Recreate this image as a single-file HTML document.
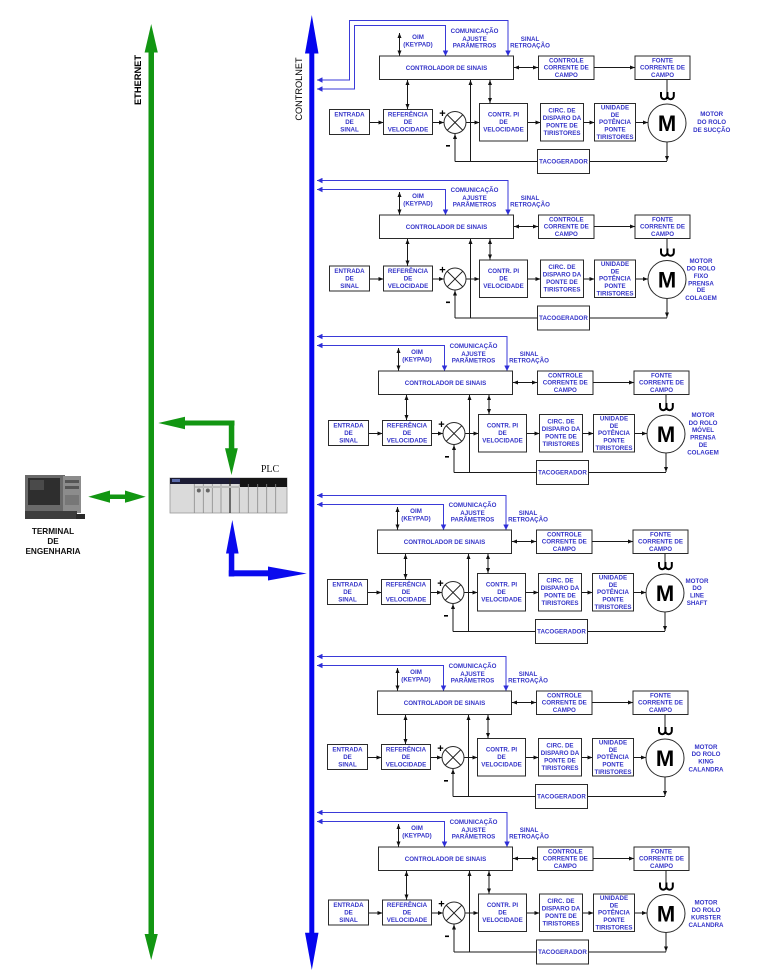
<!DOCTYPE html>
<html><head><meta charset="utf-8">
<style>
html,body{margin:0;padding:0;background:#fff;}
svg{display:block;}
.t{font-family:"Liberation Sans",Arial,sans-serif;font-weight:bold;font-size:6.2px;fill:#3434c8;text-anchor:middle;}
.b{fill:#fff;stroke:#2a2a2a;stroke-width:1;}
.l{fill:none;stroke:#1a1a1a;stroke-width:1;}
.c{fill:none;stroke:#3a3ad8;stroke-width:1;}
.M{font-family:"Liberation Sans",Arial,sans-serif;font-weight:bold;font-size:22px;fill:#000;text-anchor:middle;}
.pm{font-family:"Liberation Sans",Arial,sans-serif;font-weight:bold;font-size:11px;fill:#000;text-anchor:middle;}
</style></head>
<body>
<svg width="763" height="977" viewBox="0 0 763 977" xmlns="http://www.w3.org/2000/svg">
<defs>
<marker id="a" viewBox="0 0 10 10" refX="10" refY="5" markerWidth="5" markerHeight="5" markerUnits="userSpaceOnUse" orient="auto-start-reverse"><path d="M0,1L10,5L0,9z" fill="#111"/></marker>
<marker id="bm" viewBox="0 0 10 10" refX="10" refY="5" markerWidth="5.5" markerHeight="5.5" markerUnits="userSpaceOnUse" orient="auto-start-reverse"><path d="M0,0L10,5L0,10z" fill="#2f2fd8"/></marker>
</defs>

<!-- ETHERNET bus -->
<rect x="148.5" y="51" width="5.5" height="884" fill="#129612"/>
<path d="M151.2,24L157.8,52.5H144.6z" fill="#129612"/>
<path d="M144.6,934H157.8L151.2,960z" fill="#129612"/>
<text transform="translate(141,80) rotate(-90)" text-anchor="middle" font-family="Liberation Sans, Arial, sans-serif" font-weight="bold" font-size="9.3" fill="#000">ETHERNET</text>

<!-- CONTROLNET bus -->
<rect x="309.3" y="52" width="5" height="882" fill="#0505ee"/>
<path d="M311.8,15L318.5,53.5H305z" fill="#0505ee"/>
<path d="M305,932.7H318.5L311.8,970z" fill="#0505ee"/>
<text transform="translate(302,89) rotate(-90)" text-anchor="middle" font-family="Liberation Sans, Arial, sans-serif" font-size="9.2" fill="#000">CONTROLNET</text>

<!-- green arrow bus -> PLC -->
<rect x="184" y="420.5" width="50.5" height="5" fill="#129612"/>
<path d="M158.3,423L185,416.8L185,429.2z" fill="#129612"/>
<rect x="228.8" y="420.5" width="5.5" height="29" fill="#129612"/>
<path d="M225,448.3H237.8L231.5,475z" fill="#129612"/>

<!-- green double arrow terminal -->
<rect x="108" y="494.5" width="19" height="4.5" fill="#129612"/>
<path d="M88.3,496.7L110,490.5L110,502.8z" fill="#129612"/>
<path d="M145.7,496.7L125,490.5L125,502.8z" fill="#129612"/>

<!-- blue arrow PLC -> controlnet -->
<path d="M232.3,520L238.6,553.5H226z" fill="#0a0aee"/>
<rect x="228.8" y="553" width="5.5" height="23.5" fill="#0a0aee"/>
<rect x="228.8" y="570.3" width="40" height="6" fill="#0a0aee"/>
<path d="M268,566.5L306.7,573.5L268,580.5z" fill="#0a0aee"/>

<!-- computer -->
<rect x="25" y="475" width="40" height="36" fill="#6a6a6a"/>
<rect x="28" y="478" width="32" height="27" fill="#2e2e2e"/>
<rect x="30" y="480" width="14" height="10" fill="#4a4a4a"/>
<rect x="63" y="476" width="18" height="37" fill="#8c8c8c"/>
<rect x="65" y="480" width="14" height="3" fill="#555"/>
<rect x="65" y="486" width="14" height="3" fill="#555"/>
<rect x="65" y="495" width="14" height="10" fill="#777"/>
<rect x="25" y="511" width="52" height="8" fill="#3d3d3d"/>
<rect x="76" y="514" width="9" height="5" fill="#2a2a2a"/>
<text x="53" y="534" text-anchor="middle" font-family="Liberation Sans, Arial, sans-serif" font-weight="bold" font-size="8.2" fill="#111">TERMINAL</text>
<text x="53" y="544" text-anchor="middle" font-family="Liberation Sans, Arial, sans-serif" font-weight="bold" font-size="8.2" fill="#111">DE</text>
<text x="53" y="554" text-anchor="middle" font-family="Liberation Sans, Arial, sans-serif" font-weight="bold" font-size="8.2" fill="#111">ENGENHARIA</text>

<!-- PLC -->
<text x="270" y="472" text-anchor="middle" font-family="Liberation Serif, serif" font-size="10" fill="#111">PLC</text>
<rect x="170" y="478" width="117" height="35" fill="#dadada" stroke="#9a9a9a" stroke-width="0.8"/>
<rect x="170" y="478" width="117" height="6" fill="#1c1c34"/>
<rect x="240" y="478" width="47" height="9" fill="#151515"/>
<rect x="172" y="479" width="8" height="3" fill="#5a6aaa"/>
<g stroke="#8a8a8a" stroke-width="0.8">
<path d="M194.3,484V513M203.3,484V513M212.3,484V513M221,484V513M239.3,484V513M248.3,484V513M257.7,484V513M266.7,484V513M275.7,484V513"/>
</g>
<path d="M230,478V513" stroke="#222" stroke-width="1.2"/>
<circle cx="198.8" cy="490.5" r="2" fill="#666"/>
<circle cx="207.8" cy="490.5" r="2" fill="#666"/>
<rect x="194.5" y="486" width="45" height="2" fill="#bbb"/>

<!-- ================= SECTION 1 ================= -->
<path class="c" d="M317,80H349.5V20.5H508V56" marker-start="url(#bm)" marker-end="url(#bm)"/>
<path class="c" d="M317,89H354.5V25.5H445.5V56" marker-start="url(#bm)" marker-end="url(#bm)"/>
<g>
<rect class="b" x="379.5" y="56" width="134" height="23.5"/>
<rect class="b" x="538.5" y="56" width="55.5" height="23.5"/>
<rect class="b" x="635" y="56" width="55" height="23.5"/>
<path class="l" d="M514,67.5H538" marker-start="url(#a)" marker-end="url(#a)"/>
<path class="l" d="M594,67.5H635" marker-end="url(#a)"/>
<path class="l" d="M399.5,33V55.5" marker-start="url(#a)" marker-end="url(#a)"/>
<text class="t" x="446.5" y="69.9">CONTROLADOR DE SINAIS</text>
<text class="t" x="566.3" y="62.5">CONTROLE</text><text class="t" x="566.3" y="69.7">CORRENTE DE</text><text class="t" x="566.3" y="76.9">CAMPO</text>
<text class="t" x="662.5" y="62.5">FONTE</text><text class="t" x="662.5" y="69.7">CORRENTE DE</text><text class="t" x="662.5" y="76.9">CAMPO</text>
<text class="t" x="418" y="39.2">OIM</text><text class="t" x="418" y="46.5">(KEYPAD)</text>
<text class="t" x="474.5" y="33.2">COMUNICAÇÃO</text><text class="t" x="474.5" y="40.8">AJUSTE</text><text class="t" x="474.5" y="47.5">PARÂMETROS</text>
<text class="t" x="530" y="40.8">SINAL</text><text class="t" x="530" y="47.5">RETROAÇÃO</text>
</g>
<g>
<path class="l" d="M455,161.5H667"/>
<path class="l" d="M455,161.5V134" marker-end="url(#a)"/>
<path class="l" d="M667,142V161" marker-end="url(#a)"/>
<path class="l" d="M369.5,122.5H383.5" marker-end="url(#a)"/>
<path class="l" d="M432.5,122.5H444" marker-end="url(#a)"/>
<path class="l" d="M466,122.5H479.5" marker-end="url(#a)"/>
<path class="l" d="M527.5,122.5H540.5" marker-end="url(#a)"/>
<path class="l" d="M583.5,122.5H594.5" marker-end="url(#a)"/>
<path class="l" d="M635.5,122.5H648" marker-end="url(#a)"/>
<rect class="b" x="329.5" y="109.5" width="40" height="25"/>
<rect class="b" x="383.5" y="109.5" width="49" height="25"/>
<rect class="b" x="479.5" y="103.5" width="48" height="37.5"/>
<rect class="b" x="540.5" y="103.5" width="43" height="37.5"/>
<rect class="b" x="594.5" y="103.5" width="41" height="37.5"/>
<rect class="b" x="537.5" y="149.5" width="52" height="24"/>
<circle class="b" cx="455" cy="122.5" r="11"/>
<path class="l" d="M447.2,114.7L462.8,130.3M462.8,114.7L447.2,130.3"/>
<circle class="b" cx="667" cy="123" r="19" stroke-width="1.3"/>
<text class="M" x="667" y="131">M</text>
<path d="M661,92v4a3.2,3.2 0 0 0 6.4,0v-4M667.4,96a3.2,3.2 0 0 0 6.4,0v-4" fill="none" stroke="#000" stroke-width="2"/>
<text class="pm" x="442.5" y="117">+</text>
<rect x="446" y="145" width="4" height="1.6" fill="#000"/>
<text class="t" x="349.5" y="116.5">ENTRADA</text><text class="t" x="349.5" y="124">DE</text><text class="t" x="349.5" y="131.5">SINAL</text>
<text class="t" x="408" y="116.5">REFERÊNCIA</text><text class="t" x="408" y="124">DE</text><text class="t" x="408" y="131.5">VELOCIDADE</text>
<text class="t" x="503.5" y="116.5">CONTR. PI</text><text class="t" x="503.5" y="124">DE</text><text class="t" x="503.5" y="131.5">VELOCIDADE</text>
<text class="t" x="562" y="112.4">CIRC. DE</text><text class="t" x="562" y="120">DISPARO DA</text><text class="t" x="562" y="127.6">PONTE DE</text><text class="t" x="562" y="135.2">TIRISTORES</text>
<text class="t" x="615" y="109.6">UNIDADE</text><text class="t" x="615" y="116.9">DE</text><text class="t" x="615" y="124.2">POTÊNCIA</text><text class="t" x="615" y="131.5">PONTE</text><text class="t" x="615" y="138.8">TIRISTORES</text>
<text class="t" x="563.5" y="163.7">TACOGERADOR</text>
</g>
<g>
<path class="l" d="M470.5,161.5V80" marker-end="url(#a)"/>
<path class="l" d="M490,80V103" marker-start="url(#a)" marker-end="url(#a)"/>
<path class="l" d="M407.5,80V109" marker-start="url(#a)" marker-end="url(#a)"/>
<path class="l" d="M667,79.5V92" stroke-width="1.3"/>
</g>
<text class="t" x="711.7" y="116.2">MOTOR</text><text class="t" x="711.7" y="124.2">DO ROLO</text><text class="t" x="711.7" y="132.2">DE SUCÇÃO</text>

<!-- ================= SECTION 2 ================= -->
<g transform="translate(0,159)">
<path class="c" d="M317,21.5H508V56" marker-start="url(#bm)" marker-end="url(#bm)"/>
<path class="c" d="M317,30.5H445.5V56" marker-start="url(#bm)" marker-end="url(#bm)"/>
<rect class="b" x="379.5" y="56" width="134" height="23.5"/>
<rect class="b" x="538.5" y="56" width="55.5" height="23.5"/>
<rect class="b" x="635" y="56" width="55" height="23.5"/>
<path class="l" d="M514,67.5H538" marker-start="url(#a)" marker-end="url(#a)"/>
<path class="l" d="M594,67.5H635" marker-end="url(#a)"/>
<path class="l" d="M399.5,33V55.5" marker-start="url(#a)" marker-end="url(#a)"/>
<text class="t" x="446.5" y="69.9">CONTROLADOR DE SINAIS</text>
<text class="t" x="566.3" y="62.5">CONTROLE</text><text class="t" x="566.3" y="69.7">CORRENTE DE</text><text class="t" x="566.3" y="76.9">CAMPO</text>
<text class="t" x="662.5" y="62.5">FONTE</text><text class="t" x="662.5" y="69.7">CORRENTE DE</text><text class="t" x="662.5" y="76.9">CAMPO</text>
<text class="t" x="418" y="39.2">OIM</text><text class="t" x="418" y="46.5">(KEYPAD)</text>
<text class="t" x="474.5" y="33.2">COMUNICAÇÃO</text><text class="t" x="474.5" y="40.8">AJUSTE</text><text class="t" x="474.5" y="47.5">PARÂMETROS</text>
<text class="t" x="530" y="40.8">SINAL</text><text class="t" x="530" y="47.5">RETROAÇÃO</text>
</g>
<g transform="translate(0,156.5)">
<path class="l" d="M455,161.5H667"/>
<path class="l" d="M455,161.5V134" marker-end="url(#a)"/>
<path class="l" d="M667,142V161" marker-end="url(#a)"/>
<path class="l" d="M369.5,122.5H383.5" marker-end="url(#a)"/>
<path class="l" d="M432.5,122.5H444" marker-end="url(#a)"/>
<path class="l" d="M466,122.5H479.5" marker-end="url(#a)"/>
<path class="l" d="M527.5,122.5H540.5" marker-end="url(#a)"/>
<path class="l" d="M583.5,122.5H594.5" marker-end="url(#a)"/>
<path class="l" d="M635.5,122.5H648" marker-end="url(#a)"/>
<rect class="b" x="329.5" y="109.5" width="40" height="25"/>
<rect class="b" x="383.5" y="109.5" width="49" height="25"/>
<rect class="b" x="479.5" y="103.5" width="48" height="37.5"/>
<rect class="b" x="540.5" y="103.5" width="43" height="37.5"/>
<rect class="b" x="594.5" y="103.5" width="41" height="37.5"/>
<rect class="b" x="537.5" y="149.5" width="52" height="24"/>
<circle class="b" cx="455" cy="122.5" r="11"/>
<path class="l" d="M447.2,114.7L462.8,130.3M462.8,114.7L447.2,130.3"/>
<circle class="b" cx="667" cy="123" r="19" stroke-width="1.3"/>
<text class="M" x="667" y="131">M</text>
<path d="M661,92v4a3.2,3.2 0 0 0 6.4,0v-4M667.4,96a3.2,3.2 0 0 0 6.4,0v-4" fill="none" stroke="#000" stroke-width="2"/>
<text class="pm" x="442.5" y="117">+</text>
<rect x="446" y="145" width="4" height="1.6" fill="#000"/>
<text class="t" x="349.5" y="116.5">ENTRADA</text><text class="t" x="349.5" y="124">DE</text><text class="t" x="349.5" y="131.5">SINAL</text>
<text class="t" x="408" y="116.5">REFERÊNCIA</text><text class="t" x="408" y="124">DE</text><text class="t" x="408" y="131.5">VELOCIDADE</text>
<text class="t" x="503.5" y="116.5">CONTR. PI</text><text class="t" x="503.5" y="124">DE</text><text class="t" x="503.5" y="131.5">VELOCIDADE</text>
<text class="t" x="562" y="112.4">CIRC. DE</text><text class="t" x="562" y="120">DISPARO DA</text><text class="t" x="562" y="127.6">PONTE DE</text><text class="t" x="562" y="135.2">TIRISTORES</text>
<text class="t" x="615" y="109.6">UNIDADE</text><text class="t" x="615" y="116.9">DE</text><text class="t" x="615" y="124.2">POTÊNCIA</text><text class="t" x="615" y="131.5">PONTE</text><text class="t" x="615" y="138.8">TIRISTORES</text>
<text class="t" x="563.5" y="163.7">TACOGERADOR</text>
</g>
<g>
<path class="l" d="M470.5,318V239" marker-end="url(#a)"/>
<path class="l" d="M490,239V259.5" marker-start="url(#a)" marker-end="url(#a)"/>
<path class="l" d="M407.5,239V265.5" marker-start="url(#a)" marker-end="url(#a)"/>
<path class="l" d="M667,238.5V248.5" stroke-width="1.3"/>
</g>
<text class="t" x="701" y="262.9">MOTOR</text><text class="t" x="701" y="270.5">DO ROLO</text><text class="t" x="701" y="277.9">FIXO</text><text class="t" x="701" y="285.5">PRENSA</text><text class="t" x="701" y="292.2">DE</text><text class="t" x="701" y="299.9">COLAGEM</text>

<!-- ================= SECTION 3 ================= -->
<g transform="translate(-1,315)">
<path class="c" d="M318,21.5H508V56" marker-start="url(#bm)" marker-end="url(#bm)"/>
<path class="c" d="M318,30.5H445.5V56" marker-start="url(#bm)" marker-end="url(#bm)"/>
<rect class="b" x="379.5" y="56" width="134" height="23.5"/>
<rect class="b" x="538.5" y="56" width="55.5" height="23.5"/>
<rect class="b" x="635" y="56" width="55" height="23.5"/>
<path class="l" d="M514,67.5H538" marker-start="url(#a)" marker-end="url(#a)"/>
<path class="l" d="M594,67.5H635" marker-end="url(#a)"/>
<path class="l" d="M399.5,33V55.5" marker-start="url(#a)" marker-end="url(#a)"/>
<text class="t" x="446.5" y="69.9">CONTROLADOR DE SINAIS</text>
<text class="t" x="566.3" y="62.5">CONTROLE</text><text class="t" x="566.3" y="69.7">CORRENTE DE</text><text class="t" x="566.3" y="76.9">CAMPO</text>
<text class="t" x="662.5" y="62.5">FONTE</text><text class="t" x="662.5" y="69.7">CORRENTE DE</text><text class="t" x="662.5" y="76.9">CAMPO</text>
<text class="t" x="418" y="39.2">OIM</text><text class="t" x="418" y="46.5">(KEYPAD)</text>
<text class="t" x="474.5" y="33.2">COMUNICAÇÃO</text><text class="t" x="474.5" y="40.8">AJUSTE</text><text class="t" x="474.5" y="47.5">PARÂMETROS</text>
<text class="t" x="530" y="40.8">SINAL</text><text class="t" x="530" y="47.5">RETROAÇÃO</text>
</g>
<g transform="translate(-1,311)">
<path class="l" d="M455,161.5H667"/>
<path class="l" d="M455,161.5V134" marker-end="url(#a)"/>
<path class="l" d="M667,142V161" marker-end="url(#a)"/>
<path class="l" d="M369.5,122.5H383.5" marker-end="url(#a)"/>
<path class="l" d="M432.5,122.5H444" marker-end="url(#a)"/>
<path class="l" d="M466,122.5H479.5" marker-end="url(#a)"/>
<path class="l" d="M527.5,122.5H540.5" marker-end="url(#a)"/>
<path class="l" d="M583.5,122.5H594.5" marker-end="url(#a)"/>
<path class="l" d="M635.5,122.5H648" marker-end="url(#a)"/>
<rect class="b" x="329.5" y="109.5" width="40" height="25"/>
<rect class="b" x="383.5" y="109.5" width="49" height="25"/>
<rect class="b" x="479.5" y="103.5" width="48" height="37.5"/>
<rect class="b" x="540.5" y="103.5" width="43" height="37.5"/>
<rect class="b" x="594.5" y="103.5" width="41" height="37.5"/>
<rect class="b" x="537.5" y="149.5" width="52" height="24"/>
<circle class="b" cx="455" cy="122.5" r="11"/>
<path class="l" d="M447.2,114.7L462.8,130.3M462.8,114.7L447.2,130.3"/>
<circle class="b" cx="667" cy="123" r="19" stroke-width="1.3"/>
<text class="M" x="667" y="131">M</text>
<path d="M661,92v4a3.2,3.2 0 0 0 6.4,0v-4M667.4,96a3.2,3.2 0 0 0 6.4,0v-4" fill="none" stroke="#000" stroke-width="2"/>
<text class="pm" x="442.5" y="117">+</text>
<rect x="446" y="145" width="4" height="1.6" fill="#000"/>
<text class="t" x="349.5" y="116.5">ENTRADA</text><text class="t" x="349.5" y="124">DE</text><text class="t" x="349.5" y="131.5">SINAL</text>
<text class="t" x="408" y="116.5">REFERÊNCIA</text><text class="t" x="408" y="124">DE</text><text class="t" x="408" y="131.5">VELOCIDADE</text>
<text class="t" x="503.5" y="116.5">CONTR. PI</text><text class="t" x="503.5" y="124">DE</text><text class="t" x="503.5" y="131.5">VELOCIDADE</text>
<text class="t" x="562" y="112.4">CIRC. DE</text><text class="t" x="562" y="120">DISPARO DA</text><text class="t" x="562" y="127.6">PONTE DE</text><text class="t" x="562" y="135.2">TIRISTORES</text>
<text class="t" x="615" y="109.6">UNIDADE</text><text class="t" x="615" y="116.9">DE</text><text class="t" x="615" y="124.2">POTÊNCIA</text><text class="t" x="615" y="131.5">PONTE</text><text class="t" x="615" y="138.8">TIRISTORES</text>
<text class="t" x="563.5" y="163.7">TACOGERADOR</text>
</g>
<g transform="translate(-1,0)">
<path class="l" d="M470.5,472.5V395" marker-end="url(#a)"/>
<path class="l" d="M490,395V414" marker-start="url(#a)" marker-end="url(#a)"/>
<path class="l" d="M407.5,395V420" marker-start="url(#a)" marker-end="url(#a)"/>
<path class="l" d="M667,394.5V403" stroke-width="1.3"/>
</g>
<text class="t" x="703" y="417.2">MOTOR</text><text class="t" x="703" y="424.9">DO ROLO</text><text class="t" x="703" y="432.2">MÓVEL</text><text class="t" x="703" y="439.5">PRENSA</text><text class="t" x="703" y="447.2">DE</text><text class="t" x="703" y="454.5">COLAGEM</text>

<!-- ================= SECTION 4 ================= -->
<g transform="translate(-2,474)">
<path class="c" d="M319,21.5H508V56" marker-start="url(#bm)" marker-end="url(#bm)"/>
<path class="c" d="M319,30.5H445.5V56" marker-start="url(#bm)" marker-end="url(#bm)"/>
<rect class="b" x="379.5" y="56" width="134" height="23.5"/>
<rect class="b" x="538.5" y="56" width="55.5" height="23.5"/>
<rect class="b" x="635" y="56" width="55" height="23.5"/>
<path class="l" d="M514,67.5H538" marker-start="url(#a)" marker-end="url(#a)"/>
<path class="l" d="M594,67.5H635" marker-end="url(#a)"/>
<path class="l" d="M399.5,33V55.5" marker-start="url(#a)" marker-end="url(#a)"/>
<text class="t" x="446.5" y="69.9">CONTROLADOR DE SINAIS</text>
<text class="t" x="566.3" y="62.5">CONTROLE</text><text class="t" x="566.3" y="69.7">CORRENTE DE</text><text class="t" x="566.3" y="76.9">CAMPO</text>
<text class="t" x="662.5" y="62.5">FONTE</text><text class="t" x="662.5" y="69.7">CORRENTE DE</text><text class="t" x="662.5" y="76.9">CAMPO</text>
<text class="t" x="418" y="39.2">OIM</text><text class="t" x="418" y="46.5">(KEYPAD)</text>
<text class="t" x="474.5" y="33.2">COMUNICAÇÃO</text><text class="t" x="474.5" y="40.8">AJUSTE</text><text class="t" x="474.5" y="47.5">PARÂMETROS</text>
<text class="t" x="530" y="40.8">SINAL</text><text class="t" x="530" y="47.5">RETROAÇÃO</text>
</g>
<g transform="translate(-2,470)">
<path class="l" d="M455,161.5H667"/>
<path class="l" d="M455,161.5V134" marker-end="url(#a)"/>
<path class="l" d="M667,142V161" marker-end="url(#a)"/>
<path class="l" d="M369.5,122.5H383.5" marker-end="url(#a)"/>
<path class="l" d="M432.5,122.5H444" marker-end="url(#a)"/>
<path class="l" d="M466,122.5H479.5" marker-end="url(#a)"/>
<path class="l" d="M527.5,122.5H540.5" marker-end="url(#a)"/>
<path class="l" d="M583.5,122.5H594.5" marker-end="url(#a)"/>
<path class="l" d="M635.5,122.5H648" marker-end="url(#a)"/>
<rect class="b" x="329.5" y="109.5" width="40" height="25"/>
<rect class="b" x="383.5" y="109.5" width="49" height="25"/>
<rect class="b" x="479.5" y="103.5" width="48" height="37.5"/>
<rect class="b" x="540.5" y="103.5" width="43" height="37.5"/>
<rect class="b" x="594.5" y="103.5" width="41" height="37.5"/>
<rect class="b" x="537.5" y="149.5" width="52" height="24"/>
<circle class="b" cx="455" cy="122.5" r="11"/>
<path class="l" d="M447.2,114.7L462.8,130.3M462.8,114.7L447.2,130.3"/>
<circle class="b" cx="667" cy="123" r="19" stroke-width="1.3"/>
<text class="M" x="667" y="131">M</text>
<path d="M661,92v4a3.2,3.2 0 0 0 6.4,0v-4M667.4,96a3.2,3.2 0 0 0 6.4,0v-4" fill="none" stroke="#000" stroke-width="2"/>
<text class="pm" x="442.5" y="117">+</text>
<rect x="446" y="145" width="4" height="1.6" fill="#000"/>
<text class="t" x="349.5" y="116.5">ENTRADA</text><text class="t" x="349.5" y="124">DE</text><text class="t" x="349.5" y="131.5">SINAL</text>
<text class="t" x="408" y="116.5">REFERÊNCIA</text><text class="t" x="408" y="124">DE</text><text class="t" x="408" y="131.5">VELOCIDADE</text>
<text class="t" x="503.5" y="116.5">CONTR. PI</text><text class="t" x="503.5" y="124">DE</text><text class="t" x="503.5" y="131.5">VELOCIDADE</text>
<text class="t" x="562" y="112.4">CIRC. DE</text><text class="t" x="562" y="120">DISPARO DA</text><text class="t" x="562" y="127.6">PONTE DE</text><text class="t" x="562" y="135.2">TIRISTORES</text>
<text class="t" x="615" y="109.6">UNIDADE</text><text class="t" x="615" y="116.9">DE</text><text class="t" x="615" y="124.2">POTÊNCIA</text><text class="t" x="615" y="131.5">PONTE</text><text class="t" x="615" y="138.8">TIRISTORES</text>
<text class="t" x="563.5" y="163.7">TACOGERADOR</text>
</g>
<g transform="translate(-2,0)">
<path class="l" d="M470.5,631.5V554" marker-end="url(#a)"/>
<path class="l" d="M490,554V573" marker-start="url(#a)" marker-end="url(#a)"/>
<path class="l" d="M407.5,554V579" marker-start="url(#a)" marker-end="url(#a)"/>
<path class="l" d="M667,553.5V562" stroke-width="1.3"/>
</g>
<text class="t" x="697" y="582.9">MOTOR</text><text class="t" x="697" y="590.2">DO</text><text class="t" x="697" y="597.5">LINE</text><text class="t" x="697" y="605.2">SHAFT</text>

<!-- ================= SECTION 5 ================= -->
<g transform="translate(-2,635)">
<path class="c" d="M319,21.5H508V56" marker-start="url(#bm)" marker-end="url(#bm)"/>
<path class="c" d="M319,30.5H445.5V56" marker-start="url(#bm)" marker-end="url(#bm)"/>
<rect class="b" x="379.5" y="56" width="134" height="23.5"/>
<rect class="b" x="538.5" y="56" width="55.5" height="23.5"/>
<rect class="b" x="635" y="56" width="55" height="23.5"/>
<path class="l" d="M514,67.5H538" marker-start="url(#a)" marker-end="url(#a)"/>
<path class="l" d="M594,67.5H635" marker-end="url(#a)"/>
<path class="l" d="M399.5,33V55.5" marker-start="url(#a)" marker-end="url(#a)"/>
<text class="t" x="446.5" y="69.9">CONTROLADOR DE SINAIS</text>
<text class="t" x="566.3" y="62.5">CONTROLE</text><text class="t" x="566.3" y="69.7">CORRENTE DE</text><text class="t" x="566.3" y="76.9">CAMPO</text>
<text class="t" x="662.5" y="62.5">FONTE</text><text class="t" x="662.5" y="69.7">CORRENTE DE</text><text class="t" x="662.5" y="76.9">CAMPO</text>
<text class="t" x="418" y="39.2">OIM</text><text class="t" x="418" y="46.5">(KEYPAD)</text>
<text class="t" x="474.5" y="33.2">COMUNICAÇÃO</text><text class="t" x="474.5" y="40.8">AJUSTE</text><text class="t" x="474.5" y="47.5">PARÂMETROS</text>
<text class="t" x="530" y="40.8">SINAL</text><text class="t" x="530" y="47.5">RETROAÇÃO</text>
</g>
<g transform="translate(-2,635)">
<path class="l" d="M455,161.5H667"/>
<path class="l" d="M455,161.5V134" marker-end="url(#a)"/>
<path class="l" d="M667,142V161" marker-end="url(#a)"/>
<path class="l" d="M369.5,122.5H383.5" marker-end="url(#a)"/>
<path class="l" d="M432.5,122.5H444" marker-end="url(#a)"/>
<path class="l" d="M466,122.5H479.5" marker-end="url(#a)"/>
<path class="l" d="M527.5,122.5H540.5" marker-end="url(#a)"/>
<path class="l" d="M583.5,122.5H594.5" marker-end="url(#a)"/>
<path class="l" d="M635.5,122.5H648" marker-end="url(#a)"/>
<rect class="b" x="329.5" y="109.5" width="40" height="25"/>
<rect class="b" x="383.5" y="109.5" width="49" height="25"/>
<rect class="b" x="479.5" y="103.5" width="48" height="37.5"/>
<rect class="b" x="540.5" y="103.5" width="43" height="37.5"/>
<rect class="b" x="594.5" y="103.5" width="41" height="37.5"/>
<rect class="b" x="537.5" y="149.5" width="52" height="24"/>
<circle class="b" cx="455" cy="122.5" r="11"/>
<path class="l" d="M447.2,114.7L462.8,130.3M462.8,114.7L447.2,130.3"/>
<circle class="b" cx="667" cy="123" r="19" stroke-width="1.3"/>
<text class="M" x="667" y="131">M</text>
<path d="M661,92v4a3.2,3.2 0 0 0 6.4,0v-4M667.4,96a3.2,3.2 0 0 0 6.4,0v-4" fill="none" stroke="#000" stroke-width="2"/>
<text class="pm" x="442.5" y="117">+</text>
<rect x="446" y="145" width="4" height="1.6" fill="#000"/>
<text class="t" x="349.5" y="116.5">ENTRADA</text><text class="t" x="349.5" y="124">DE</text><text class="t" x="349.5" y="131.5">SINAL</text>
<text class="t" x="408" y="116.5">REFERÊNCIA</text><text class="t" x="408" y="124">DE</text><text class="t" x="408" y="131.5">VELOCIDADE</text>
<text class="t" x="503.5" y="116.5">CONTR. PI</text><text class="t" x="503.5" y="124">DE</text><text class="t" x="503.5" y="131.5">VELOCIDADE</text>
<text class="t" x="562" y="112.4">CIRC. DE</text><text class="t" x="562" y="120">DISPARO DA</text><text class="t" x="562" y="127.6">PONTE DE</text><text class="t" x="562" y="135.2">TIRISTORES</text>
<text class="t" x="615" y="109.6">UNIDADE</text><text class="t" x="615" y="116.9">DE</text><text class="t" x="615" y="124.2">POTÊNCIA</text><text class="t" x="615" y="131.5">PONTE</text><text class="t" x="615" y="138.8">TIRISTORES</text>
<text class="t" x="563.5" y="163.7">TACOGERADOR</text>
</g>
<g transform="translate(-2,0)">
<path class="l" d="M470.5,796.5V715" marker-end="url(#a)"/>
<path class="l" d="M490,715V738" marker-start="url(#a)" marker-end="url(#a)"/>
<path class="l" d="M407.5,715V744" marker-start="url(#a)" marker-end="url(#a)"/>
<path class="l" d="M667,714.5V727" stroke-width="1.3"/>
</g>
<text class="t" x="706" y="748.9">MOTOR</text><text class="t" x="706" y="756.2">DO ROLO</text><text class="t" x="706" y="763.5">KING</text><text class="t" x="706" y="771.5">CALANDRA</text>

<!-- ================= SECTION 6 ================= -->
<g transform="translate(-1,791)">
<path class="c" d="M318,21.5H508V56" marker-start="url(#bm)" marker-end="url(#bm)"/>
<path class="c" d="M318,30.5H445.5V56" marker-start="url(#bm)" marker-end="url(#bm)"/>
<rect class="b" x="379.5" y="56" width="134" height="23.5"/>
<rect class="b" x="538.5" y="56" width="55.5" height="23.5"/>
<rect class="b" x="635" y="56" width="55" height="23.5"/>
<path class="l" d="M514,67.5H538" marker-start="url(#a)" marker-end="url(#a)"/>
<path class="l" d="M594,67.5H635" marker-end="url(#a)"/>
<path class="l" d="M399.5,33V55.5" marker-start="url(#a)" marker-end="url(#a)"/>
<text class="t" x="446.5" y="69.9">CONTROLADOR DE SINAIS</text>
<text class="t" x="566.3" y="62.5">CONTROLE</text><text class="t" x="566.3" y="69.7">CORRENTE DE</text><text class="t" x="566.3" y="76.9">CAMPO</text>
<text class="t" x="662.5" y="62.5">FONTE</text><text class="t" x="662.5" y="69.7">CORRENTE DE</text><text class="t" x="662.5" y="76.9">CAMPO</text>
<text class="t" x="418" y="39.2">OIM</text><text class="t" x="418" y="46.5">(KEYPAD)</text>
<text class="t" x="474.5" y="33.2">COMUNICAÇÃO</text><text class="t" x="474.5" y="40.8">AJUSTE</text><text class="t" x="474.5" y="47.5">PARÂMETROS</text>
<text class="t" x="530" y="40.8">SINAL</text><text class="t" x="530" y="47.5">RETROAÇÃO</text>
</g>
<g transform="translate(-1,790.5)">
<path class="l" d="M455,161.5H667"/>
<path class="l" d="M455,161.5V134" marker-end="url(#a)"/>
<path class="l" d="M667,142V161" marker-end="url(#a)"/>
<path class="l" d="M369.5,122.5H383.5" marker-end="url(#a)"/>
<path class="l" d="M432.5,122.5H444" marker-end="url(#a)"/>
<path class="l" d="M466,122.5H479.5" marker-end="url(#a)"/>
<path class="l" d="M527.5,122.5H540.5" marker-end="url(#a)"/>
<path class="l" d="M583.5,122.5H594.5" marker-end="url(#a)"/>
<path class="l" d="M635.5,122.5H648" marker-end="url(#a)"/>
<rect class="b" x="329.5" y="109.5" width="40" height="25"/>
<rect class="b" x="383.5" y="109.5" width="49" height="25"/>
<rect class="b" x="479.5" y="103.5" width="48" height="37.5"/>
<rect class="b" x="540.5" y="103.5" width="43" height="37.5"/>
<rect class="b" x="594.5" y="103.5" width="41" height="37.5"/>
<rect class="b" x="537.5" y="149.5" width="52" height="24"/>
<circle class="b" cx="455" cy="122.5" r="11"/>
<path class="l" d="M447.2,114.7L462.8,130.3M462.8,114.7L447.2,130.3"/>
<circle class="b" cx="667" cy="123" r="19" stroke-width="1.3"/>
<text class="M" x="667" y="131">M</text>
<path d="M661,92v4a3.2,3.2 0 0 0 6.4,0v-4M667.4,96a3.2,3.2 0 0 0 6.4,0v-4" fill="none" stroke="#000" stroke-width="2"/>
<text class="pm" x="442.5" y="117">+</text>
<rect x="446" y="145" width="4" height="1.6" fill="#000"/>
<text class="t" x="349.5" y="116.5">ENTRADA</text><text class="t" x="349.5" y="124">DE</text><text class="t" x="349.5" y="131.5">SINAL</text>
<text class="t" x="408" y="116.5">REFERÊNCIA</text><text class="t" x="408" y="124">DE</text><text class="t" x="408" y="131.5">VELOCIDADE</text>
<text class="t" x="503.5" y="116.5">CONTR. PI</text><text class="t" x="503.5" y="124">DE</text><text class="t" x="503.5" y="131.5">VELOCIDADE</text>
<text class="t" x="562" y="112.4">CIRC. DE</text><text class="t" x="562" y="120">DISPARO DA</text><text class="t" x="562" y="127.6">PONTE DE</text><text class="t" x="562" y="135.2">TIRISTORES</text>
<text class="t" x="615" y="109.6">UNIDADE</text><text class="t" x="615" y="116.9">DE</text><text class="t" x="615" y="124.2">POTÊNCIA</text><text class="t" x="615" y="131.5">PONTE</text><text class="t" x="615" y="138.8">TIRISTORES</text>
<text class="t" x="563.5" y="163.7">TACOGERADOR</text>
</g>
<g transform="translate(-1,0)">
<path class="l" d="M470.5,952V871" marker-end="url(#a)"/>
<path class="l" d="M490,871V893.5" marker-start="url(#a)" marker-end="url(#a)"/>
<path class="l" d="M407.5,871V899.5" marker-start="url(#a)" marker-end="url(#a)"/>
<path class="l" d="M667,870.5V882.5" stroke-width="1.3"/>
</g>
<text class="t" x="706" y="904.6">MOTOR</text><text class="t" x="706" y="912">DO ROLO</text><text class="t" x="706" y="919.4">KURSTER</text><text class="t" x="706" y="926.8">CALANDRA</text>

</svg>
</body></html>
